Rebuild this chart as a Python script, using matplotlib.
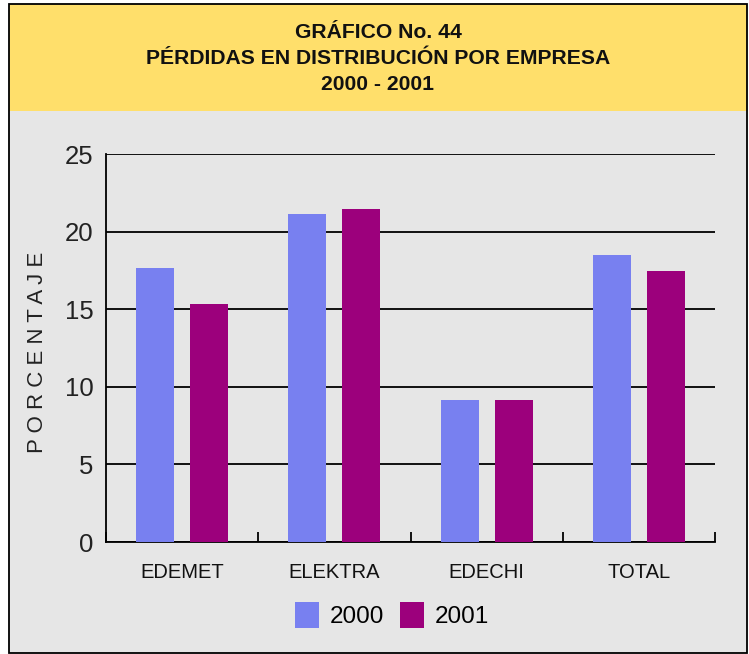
import matplotlib
matplotlib.use("Agg")
import matplotlib.pyplot as plt
from matplotlib.patches import Rectangle
import numpy as np

categories = ["EDEMET", "ELEKTRA", "EDECHI", "TOTAL"]
series_names = ["2000", "2001"]
values_2000 = [17.65, 21.13, 9.15, 18.49]
values_2001 = [15.33, 21.46, 9.15, 17.46]
yticks = [0, 5, 10, 15, 20, 25]
title_lines = ["GRÁFICO No. 44", "PÉRDIDAS EN DISTRIBUCIÓN POR EMPRESA", "2000 - 2001"]
ylabel = "PORCENTAJE"

c2000 = "#7880F0"
c2001 = "#9C007C"
bg = "#E6E6E6"
yellow = "#FFDF6B"

plt.rcParams['font.family'] = ['Liberation Sans', 'DejaVu Sans']

W, H = 749, 654
fig = plt.figure(figsize=(W / 100, H / 100), dpi=100, facecolor="white")

def fx(px):
    return px / W

def fy(py):
    return 1 - py / H

# frame
fig.patches.append(Rectangle((fx(9), fy(653)), fx(747) - fx(9), fy(4) - fy(653),
                             transform=fig.transFigure, facecolor=bg, edgecolor="none", zorder=-3))
fig.patches.append(Rectangle((fx(9), fy(111)), fx(747) - fx(9), fy(4) - fy(111),
                             transform=fig.transFigure, facecolor=yellow, edgecolor="none", zorder=-2))
fig.patches.append(Rectangle((fx(9), fy(653)), fx(747) - fx(9), fy(4) - fy(653),
                             transform=fig.transFigure, facecolor="none", edgecolor="black",
                             linewidth=1.3, zorder=-1))

for txt, py in zip(title_lines, [33, 59, 84]):
    fig.text(fx(378), fy(py), txt, ha="center", va="center", fontsize=15.2,
             fontweight="bold", color="#111111")

ax = fig.add_axes([fx(106), fy(542), fx(715) - fx(106), fy(154) - fy(542)], zorder=2)
ax.set_facecolor("none")

x = np.arange(len(categories))
off = 0.177
w = 0.25
ax.bar(x - off, values_2000, width=w, color=c2000, label=series_names[0], zorder=3)
ax.bar(x + off, values_2001, width=w, color=c2001, label=series_names[1], zorder=3)

ax.set_xlim(-0.5, len(categories) - 0.5)
ax.set_ylim(0, 25)
ax.set_yticks(yticks)
ax.set_yticklabels([str(t) for t in yticks], fontsize=18.5, color="#222222")
ax.tick_params(axis="y", length=0, pad=9)
ax.yaxis.grid(True, color="black", linewidth=1.3, zorder=1)
ax.set_axisbelow(True)

ax.set_xticks(x)
ax.set_xticklabels(categories, fontsize=14.5, color="#111111")
ax.tick_params(axis="x", length=0, pad=15)
ax.set_xticks(np.arange(-0.5, len(categories), 1.0), minor=True)
ax.tick_params(axis="x", which="minor", direction="in", length=7, width=1.3, color="black")

for s in ["top", "right"]:
    ax.spines[s].set_visible(False)
for s in ["left", "bottom"]:
    ax.spines[s].set_linewidth(1.3)
    ax.spines[s].set_color("black")

spaced = " ".join(ylabel)
fig.text(fx(38), fy(352), spaced, rotation=90, ha="center", va="center", fontsize=16,
         color="#222222")

leg = fig.legend(loc="center", bbox_to_anchor=(fx(392), fy(615)), ncol=2, frameon=False,
                 fontsize=17.5, handlelength=0.98, handleheight=1.3, handletextpad=0.45,
                 columnspacing=0.65)

fig.savefig("out.png", dpi=100, facecolor="white")
